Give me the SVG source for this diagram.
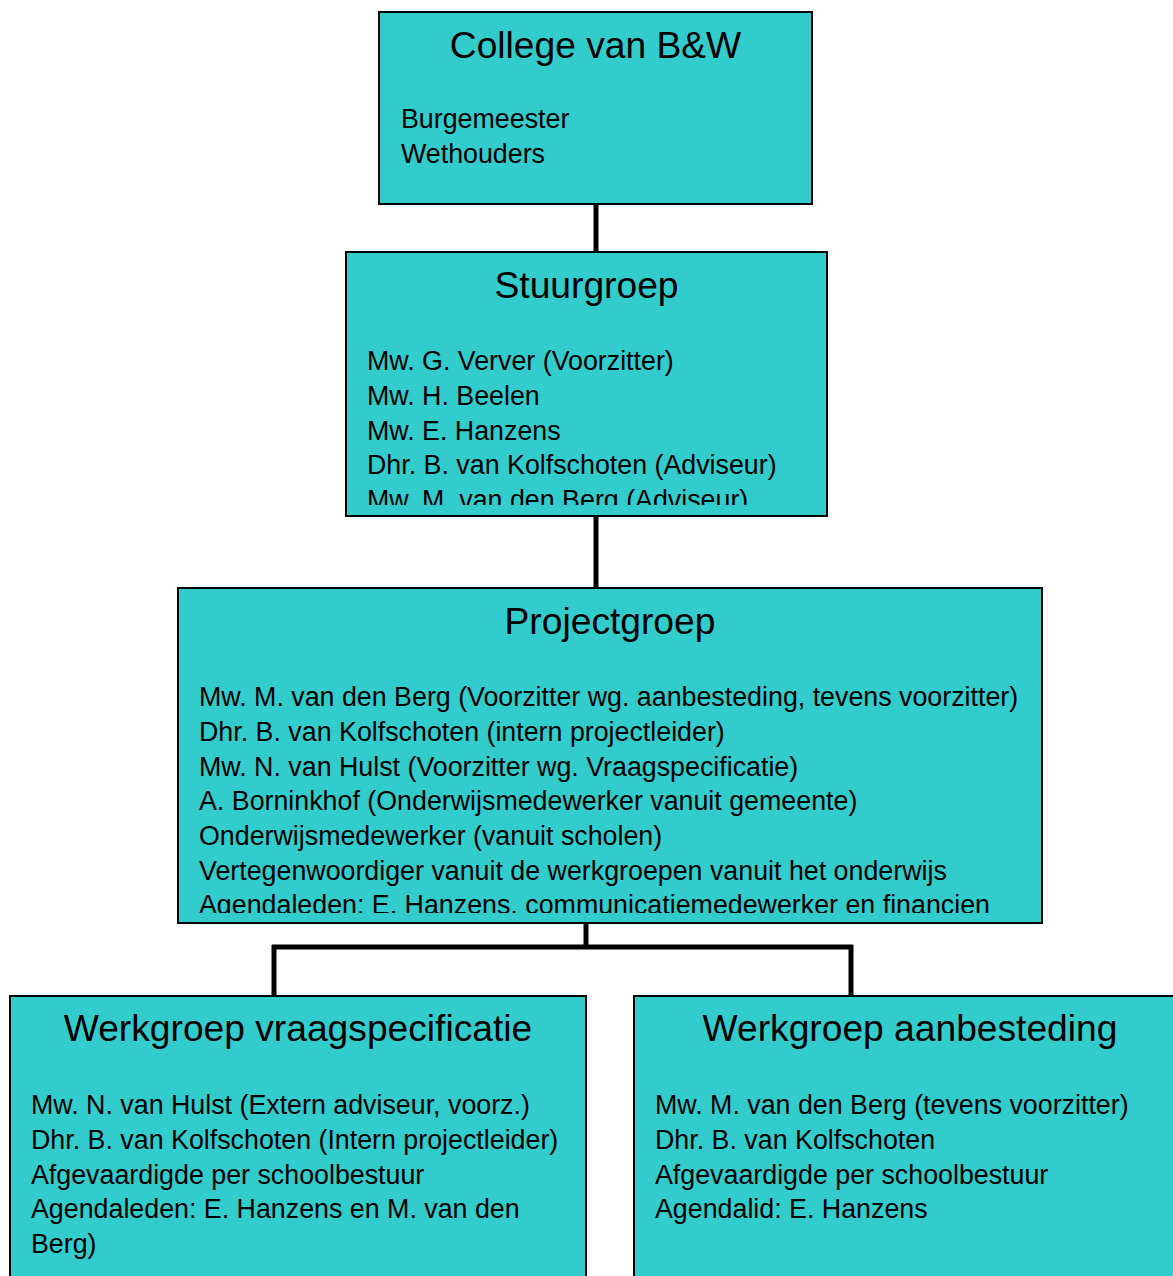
<svg xmlns="http://www.w3.org/2000/svg" width="1173" height="1276" viewBox="0 0 1173 1276">
<style>
.box{fill:#33CCCC;stroke:#000;stroke-width:2}
.t{font-family:"Liberation Sans",Arial,sans-serif;font-size:37.2px;fill:#000;text-anchor:middle}
.b{font-family:"Liberation Sans",Arial,sans-serif;font-size:26.8px;fill:#000}
.c{stroke:#000;stroke-width:5;fill:none}
</style>
<defs>
<clipPath id="clipS"><rect x="346" y="252" width="481" height="253"/></clipPath>
<clipPath id="clipP"><rect x="178" y="588" width="864" height="325"/></clipPath>
</defs>
<rect width="1173" height="1276" fill="#fff"/>
<g id="connectors">
<line class="c" x1="596" y1="204" x2="596" y2="252"/>
<line class="c" x1="596" y1="516" x2="596" y2="588"/>
<line class="c" x1="586" y1="923" x2="586" y2="947"/>
<line class="c" x1="272" y1="947" x2="853" y2="947"/>
<line class="c" x1="274" y1="945" x2="274" y2="996"/>
<line class="c" x1="851" y1="945" x2="851" y2="996"/>
</g>
<g id="college">
<rect class="box" x="379" y="12" width="433" height="192"/>
<text class="t" x="595.5" y="58">College van B&amp;W</text>
<text class="b" x="401" y="128">Burgemeester</text>
<text class="b" x="401" y="163">Wethouders</text>
</g>
<g id="stuurgroep">
<rect class="box" x="346" y="252" width="481" height="264"/>
<text class="t" x="586.5" y="298">Stuurgroep</text>
<g clip-path="url(#clipS)">
<text class="b" x="367" y="370">Mw. G. Verver (Voorzitter)</text>
<text class="b" x="367" y="405">Mw. H. Beelen</text>
<text class="b" x="367" y="440">Mw. E. Hanzens</text>
<text class="b" x="367" y="474">Dhr. B. van Kolfschoten (Adviseur)</text>
<text class="b" x="367" y="509">Mw. M. van den Berg (Adviseur)</text>
</g>
</g>
<g id="projectgroep">
<rect class="box" x="178" y="588" width="864" height="335"/>
<text class="t" x="610" y="634">Projectgroep</text>
<g clip-path="url(#clipP)">
<text class="b" x="199" y="706">Mw. M. van den Berg (Voorzitter wg. aanbesteding, tevens voorzitter)</text>
<text class="b" x="199" y="741">Dhr. B. van Kolfschoten (intern projectleider)</text>
<text class="b" x="199" y="776">Mw. N. van Hulst (Voorzitter wg. Vraagspecificatie)</text>
<text class="b" x="199" y="810">A. Borninkhof (Onderwijsmedewerker vanuit gemeente)</text>
<text class="b" x="199" y="845">Onderwijsmedewerker (vanuit scholen)</text>
<text class="b" x="199" y="880">Vertegenwoordiger vanuit de werkgroepen vanuit het onderwijs</text>
<text class="b" x="199" y="914">Agendaleden: E. Hanzens, communicatiemedewerker en financien</text>
</g>
</g>
<g id="werkgroep-vraagspecificatie">
<rect class="box" x="10" y="996" width="576" height="300"/>
<text class="t" x="298" y="1041">Werkgroep vraagspecificatie</text>
<text class="b" x="31" y="1114">Mw. N. van Hulst (Extern adviseur, voorz.)</text>
<text class="b" x="31" y="1149">Dhr. B. van Kolfschoten (Intern projectleider)</text>
<text class="b" x="31" y="1184">Afgevaardigde per schoolbestuur</text>
<text class="b" x="31" y="1218">Agendaleden: E. Hanzens en M. van den</text>
<text class="b" x="31" y="1253">Berg)</text>
</g>
<g id="werkgroep-aanbesteding">
<rect class="box" x="634" y="996" width="552" height="300"/>
<text class="t" x="910" y="1041">Werkgroep aanbesteding</text>
<text class="b" x="655" y="1114">Mw. M. van den Berg (tevens voorzitter)</text>
<text class="b" x="655" y="1149">Dhr. B. van Kolfschoten</text>
<text class="b" x="655" y="1184">Afgevaardigde per schoolbestuur</text>
<text class="b" x="655" y="1218">Agendalid: E. Hanzens</text>
</g>
</svg>
